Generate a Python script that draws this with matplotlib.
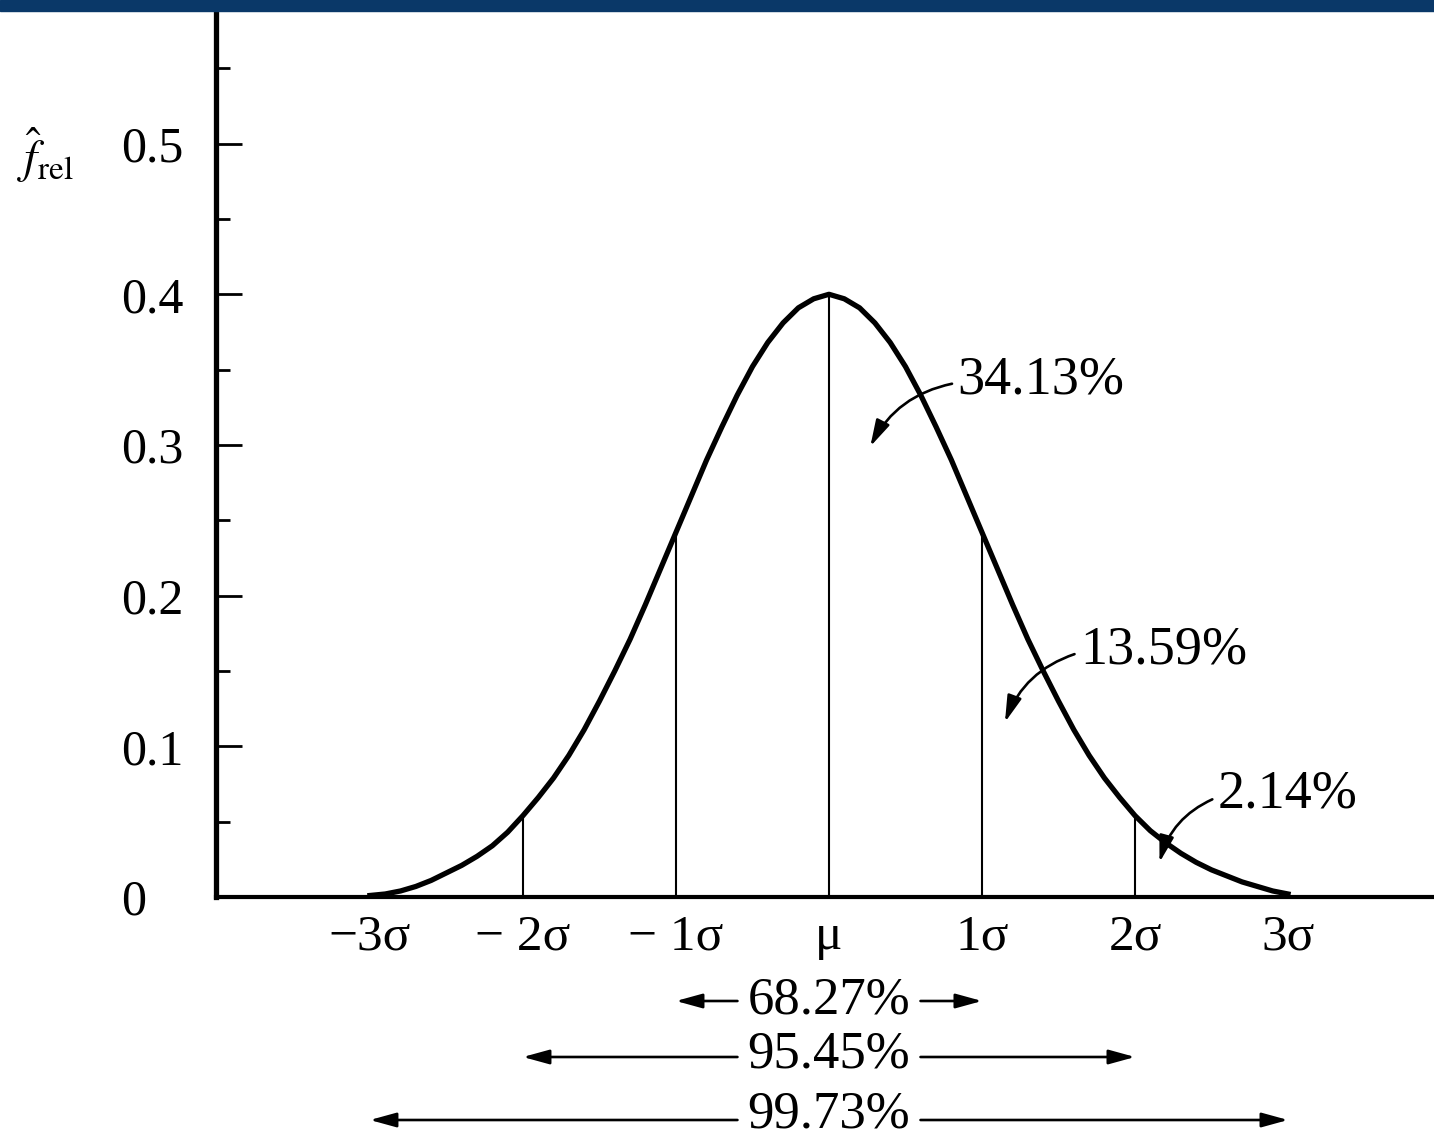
import numpy as np
import matplotlib.pyplot as plt
from matplotlib.patches import Rectangle

plt.rcParams['font.family'] = ['Liberation Serif', 'DejaVu Serif']
plt.rcParams['mathtext.fontset'] = 'stix'

# Kurve, x i sigma-enheter
curve_x = np.round(np.arange(-30, 31) / 10, 1)
curve_y = [0.001, 0.002, 0.004, 0.007, 0.011, 0.016, 0.021, 0.027, 0.034, 0.043,
           0.054, 0.066, 0.079, 0.094, 0.111, 0.130, 0.150, 0.171, 0.194, 0.218,
           0.242, 0.266, 0.290, 0.312, 0.333, 0.352, 0.368, 0.381, 0.391, 0.397,
           0.400,
           0.397, 0.391, 0.381, 0.368, 0.352, 0.333, 0.312, 0.290, 0.266, 0.242,
           0.218, 0.194, 0.171, 0.150, 0.130, 0.111, 0.094, 0.079, 0.066, 0.054,
           0.044, 0.036, 0.029, 0.023, 0.018, 0.014, 0.010, 0.007, 0.004, 0.002]

# Loddrette streker under kurven
line_x = [-2, -1, 0, 1, 2]
line_top = [0.054, 0.243, 0.400, 0.243, 0.054]

xtick_pos = [-3, -2, -1, 0, 1, 2, 3]
xtick_lab = ['−3σ', '− 2σ', '− 1σ', 'μ', '1σ', '2σ', '3σ']
ytick_pos = [0, 0.1, 0.2, 0.3, 0.4, 0.5]
ytick_lab = ['0', '0.1', '0.2', '0.3', '0.4', '0.5']
ytick_minor = [0.05, 0.15, 0.25, 0.35, 0.45, 0.55]

# Arealer med buede piler
area_lab = ['34.13%', '13.59%', '2.14%']
area_tip = [(0.27, 0.299), (1.15, 0.116), (2.16, 0.023)]
area_txt = [(0.84, 0.343), (1.64, 0.164), (2.54, 0.068)]

# Intervaller under aksen
range_lab = ['68.27%', '95.45%', '99.73%']
range_k = [1, 2, 3]

W, H = 1434, 1140
fig = plt.figure(figsize=(W / 100, H / 100), dpi=100)
ax = fig.add_axes([216 / W, 1 - 897 / H, 1 - 216 / W, (897 - 11) / H])

# blå stripe øverst
fig.patches.append(Rectangle((0, 1 - 11 / H), 1, 11 / H, transform=fig.transFigure,
                             color='#0a3868', zorder=5))

ax.plot(curve_x, curve_y, color='black', lw=3.8)
ax.vlines(line_x, 0, line_top, color='black', lw=1.5)

ax.set_xlim(-4.006, 3.954)
ax.set_ylim(0, 0.588)

for s in ['top', 'right']:
    ax.spines[s].set_visible(False)
ax.spines['left'].set_linewidth(3.8)
ax.spines['bottom'].set_linewidth(3.0)

ax.set_xticks(xtick_pos, xtick_lab, fontsize=37)
ax.set_xticks([-3, 3], minor=True)
ax.tick_params(axis='x', which='major', length=0, pad=12)
ax.tick_params(axis='x', which='minor', direction='in', length=20, width=1.5)

ax.set_yticks(ytick_pos, ytick_lab, fontsize=36)
ax.set_yticks(ytick_minor, minor=True)
ax.tick_params(axis='y', which='major', direction='in', length=18.5, width=2, pad=68)
ax.tick_params(axis='y', which='minor', direction='in', length=10, width=2)
for lab in ax.get_yticklabels():
    lab.set_horizontalalignment('left')

fig.text(45 / W, 1 - 155 / H, r'$\hat{f}_{\mathrm{rel}}$', fontsize=34,
         ha='center', va='center')

arrow = dict(arrowstyle='-|>,head_length=0.8,head_width=0.22', color='black',
             lw=1.9, mutation_scale=20, shrinkA=2, shrinkB=0)

for lab, tip, txt in zip(area_lab, area_tip, area_txt):
    ax.annotate(lab, xy=tip, xytext=txt, fontsize=39, ha='left', va='center',
                arrowprops=dict(arrow, connectionstyle='arc3,rad=0.25', relpos=(0, 0.45)))

text_y = [1 - 1013 / H, 1 - 1068 / H, 1 - 1127 / H]
arr_y = [1 - 1001 / H, 1 - 1057 / H, 1 - 1120 / H]
for lab, k, ty, ay in zip(range_lab, range_k, text_y, arr_y):
    ax.annotate(lab, xy=(0, ty), xycoords=('data', 'figure fraction'), fontsize=38,
                ha='center', va='baseline', annotation_clip=False)
    for sgn in (-1, 1):
        ax.annotate('', xy=(sgn * k, ay), xytext=(sgn * 0.58, ay),
                    xycoords=('data', 'figure fraction'),
                    textcoords=('data', 'figure fraction'),
                    arrowprops=arrow, annotation_clip=False)

fig.savefig('out.png', dpi=100)
